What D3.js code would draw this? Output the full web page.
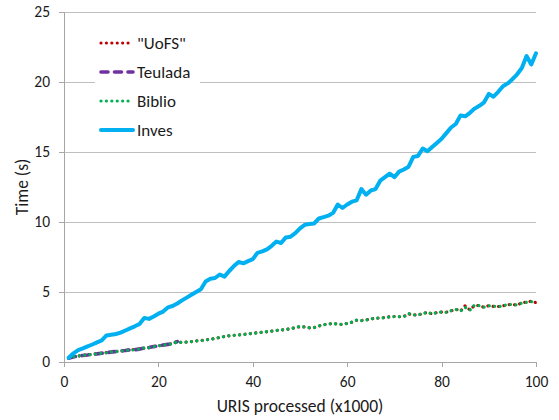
<!DOCTYPE html>
<html>
<head>
<meta charset="utf-8">
<script src="https://cdn.jsdelivr.net/npm/d3@7/dist/d3.min.js"></script>
<style>
  html, body { margin: 0; padding: 0; background: #fff; }
  svg text { font-family: Calibri, Carlito, Lato, "Open Sans", sans-serif; fill: #1a1a1a; }
</style>
</head>
<body>
<svg id="chart" width="559" height="420"></svg>
<script>
// URIs processed, in thousands
const uris = d3.range(1, 101);

// Processing time in seconds per dataset
const inves = [
  0.30, 0.62, 0.85, 0.98, 1.12, 1.25, 1.40, 1.55, 1.90, 1.95,
  2.00, 2.10, 2.25, 2.40, 2.55, 2.72, 3.15, 3.08, 3.25, 3.45,
  3.60, 3.90, 4.00, 4.18, 4.40, 4.60, 4.80, 5.00, 5.20, 5.75,
  5.95, 6.00, 6.25, 6.10, 6.50, 6.85, 7.15, 7.05, 7.20, 7.35,
  7.80, 7.90, 8.05, 8.30, 8.60, 8.50, 8.90, 8.95, 9.20, 9.55,
  9.80, 9.85, 9.90, 10.25, 10.35, 10.45, 10.65, 11.25, 11.00, 11.25,
  11.45, 11.55, 12.35, 11.95, 12.25, 12.35, 12.95, 13.20, 13.45, 13.20,
  13.60, 13.75, 13.95, 14.65, 14.72, 15.25, 15.05, 15.35, 15.65, 15.95,
  16.35, 16.75, 17.00, 17.60, 17.55, 17.80, 18.10, 18.30, 18.55, 19.15,
  18.95, 19.30, 19.70, 19.90, 20.20, 20.55, 21.00, 21.85, 21.25, 22.05
];

const biblio = [
  0.28, 0.38, 0.42, 0.48, 0.50, 0.55, 0.58, 0.62, 0.66, 0.72,
  0.74, 0.78, 0.82, 0.86, 0.88, 0.92, 1.00, 1.02, 1.10, 1.15,
  1.22, 1.25, 1.30, 1.45, 1.38, 1.42, 1.45, 1.50, 1.52, 1.57,
  1.62, 1.68, 1.76, 1.82, 1.88, 1.90, 1.93, 1.96, 2.00, 2.05,
  2.08, 2.12, 2.17, 2.20, 2.25, 2.29, 2.32, 2.38, 2.45, 2.55,
  2.50, 2.45, 2.45, 2.58, 2.66, 2.71, 2.76, 2.69, 2.69, 2.75,
  2.85, 3.00, 2.95, 3.00, 3.08, 3.12, 3.14, 3.17, 3.22, 3.24,
  3.24, 3.24, 3.46, 3.36, 3.36, 3.46, 3.55, 3.43, 3.52, 3.57,
  3.55, 3.66, 3.76, 3.64, 3.90, 3.71, 4.07, 4.02, 3.92, 4.02,
  3.98, 3.95, 4.00, 4.12, 4.10, 4.07, 4.22, 4.26, 4.31, 4.25
];

const uofs = [
  0.28, 0.37, 0.43, 0.47, 0.51, 0.55, 0.59, 0.62, 0.67, 0.71,
  0.75, 0.78, 0.83, 0.86, 0.89, 0.93, 0.99, 1.03, 1.10, 1.16,
  1.21, 1.26, 1.31, 1.46, 1.39, 1.42, 1.46, 1.50, 1.53, 1.58,
  1.62, 1.69, 1.75, 1.82, 1.87, 1.91, 1.93, 1.97, 2.01, 2.05,
  2.09, 2.12, 2.16, 2.21, 2.25, 2.28, 2.33, 2.38, 2.46, 2.52,
  2.51, 2.44, 2.46, 2.57, 2.67, 2.70, 2.77, 2.70, 2.68, 2.76,
  2.84, 2.98, 2.96, 3.01, 3.07, 3.13, 3.15, 3.17, 3.23, 3.25,
  3.23, 3.25, 3.44, 3.37, 3.35, 3.47, 3.53, 3.44, 3.53, 3.56,
  3.56, 3.65, 3.78, 3.63, 4.02, 3.72, 4.05, 4.03, 3.90, 4.03,
  3.97, 3.96, 4.01, 4.10, 4.11, 4.06, 4.24, 4.27, 4.34, 4.24
];

const teulada = [
  0.27, 0.38, 0.42, 0.47, 0.50, 0.55, 0.58, 0.63, 0.66, 0.72,
  0.74, 0.79, 0.82, 0.87, 0.88, 0.92, 1.00, 1.03, 1.10, 1.15,
  1.21, 1.26, 1.31, 1.46
];

const xTicks = [0, 20, 40, 60, 80, 100];
const yTicks = [0, 5, 10, 15, 20, 25];

const seriesNames = ['"UoFS"', "Teulada", "Biblio", "Inves"];
const seriesValues = [uofs, teulada, biblio, inves];

const styles = [
  { color: "#C00000", width: 3.2, dash: "0.01 5.4", cap: "round" },
  { color: "#7030A0", width: 3.6, dash: "7 6.5", cap: "round" },
  { color: "#00B050", width: 3.2, dash: "0.01 5.4", cap: "round" },
  { color: "#00B0F0", width: 4, dash: null, cap: "round" }
];

const FONT = "Calibri, Carlito, Lato, sans-serif";
const svg = d3.select("#chart");
const margin = { left: 64, right: 23, top: 12, bottom: 58 };
const W = 559, H = 420;

const x = d3.scaleLinear().domain([0, 100]).range([margin.left, W - margin.right]);
const y = d3.scaleLinear().domain([0, 25]).range([H - margin.bottom, margin.top]);

// horizontal gridlines
svg.append("g")
  .selectAll("line")
  .data(yTicks.filter(t => t > 0))
  .join("line")
  .attr("x1", x(0)).attr("x2", x(100))
  .attr("y1", d => y(d)).attr("y2", d => y(d))
  .attr("stroke", "#BFBFBF").attr("stroke-width", 1)
  .attr("shape-rendering", "crispEdges");

// y axis
const yAxis = svg.append("g")
  .attr("transform", `translate(${x(0)},0)`)
  .call(d3.axisLeft(y).tickValues(yTicks).tickSize(5).tickPadding(9).tickFormat(d3.format("d")));
yAxis.select(".domain").attr("stroke", "#A6A6A6").attr("shape-rendering", "crispEdges");
yAxis.selectAll(".tick line").attr("stroke", "#A6A6A6").attr("shape-rendering", "crispEdges");
yAxis.selectAll(".tick text").attr("font-size", 15.5).attr("fill", "#1a1a1a")
  .style("font-family", FONT);

// x axis
const xAxis = svg.append("g")
  .attr("transform", `translate(0,${y(0)})`)
  .call(d3.axisBottom(x).tickValues(xTicks).tickSize(5).tickPadding(9).tickSizeOuter(0));
xAxis.select(".domain").attr("stroke", "#A6A6A6").attr("shape-rendering", "crispEdges");
xAxis.selectAll(".tick line").attr("stroke", "#A6A6A6").attr("shape-rendering", "crispEdges");
xAxis.selectAll(".tick text").attr("font-size", 15.5).attr("fill", "#1a1a1a")
  .style("font-family", FONT);

// axis titles
svg.append("text")
  .attr("x", (x(0) + x(100)) / 2).attr("y", 412)
  .attr("text-anchor", "middle").attr("font-size", 17.5)
  .text("URIS processed (x1000)");

svg.append("text")
  .attr("transform", `translate(28,${(y(0) + y(25)) / 2}) rotate(-90)`)
  .attr("text-anchor", "middle").attr("font-size", 17.5)
  .text("Time (s)");

// series lines
const line = d3.line()
  .x((d, i) => x(uris[i]))
  .y(d => y(d));

const plot = svg.append("g");
seriesValues.forEach((vals, k) => {
  const s = styles[k];
  plot.append("path")
    .datum(vals)
    .attr("d", line)
    .attr("fill", "none")
    .attr("stroke", s.color)
    .attr("stroke-width", s.width)
    .attr("stroke-linecap", s.cap)
    .attr("stroke-linejoin", "round")
    .attr("stroke-dasharray", s.dash);
});

// legend
const legend = svg.append("g");
legend.append("rect")
  .attr("x", 95).attr("y", 28).attr("width", 105).attr("height", 117)
  .attr("fill", "#fff");
seriesNames.forEach((name, k) => {
  const s = styles[k];
  const cy = 43 + k * 29;
  legend.append("line")
    .attr("x1", 101).attr("x2", 133)
    .attr("y1", cy).attr("y2", cy)
    .attr("stroke", s.color)
    .attr("stroke-width", s.width)
    .attr("stroke-linecap", s.cap)
    .attr("stroke-dasharray", s.dash);
  legend.append("text")
    .attr("x", 137).attr("y", cy).attr("dy", "0.35em")
    .attr("font-size", 17)
    .text(name);
});
</script>
</body>
</html>
